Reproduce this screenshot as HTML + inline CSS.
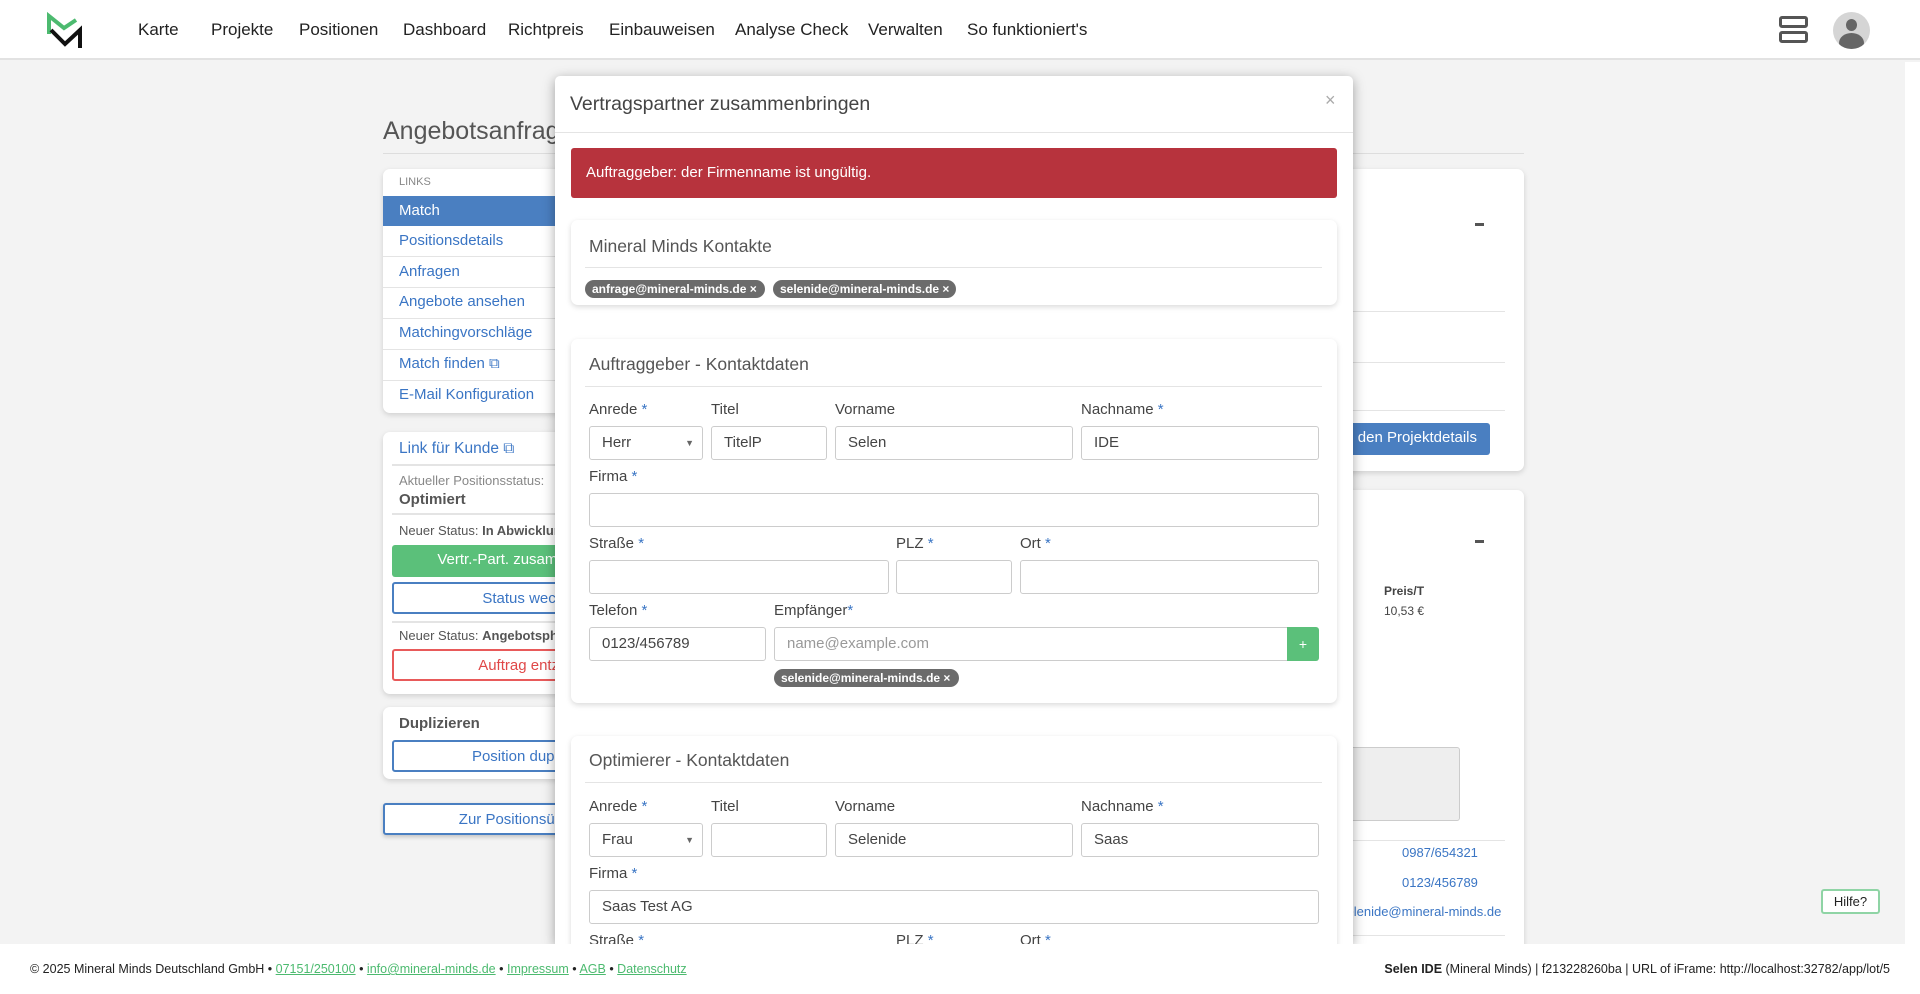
<!DOCTYPE html>
<html style="width:1920px;height:994px;overflow:hidden"><head><meta charset="utf-8"><style>
*{box-sizing:border-box;margin:0;padding:0}
body{width:1920px;height:994px;overflow:hidden;background:#f3f3f3;font-family:"Liberation Sans",sans-serif;position:relative;color:#333}
.a{position:absolute}
.nav{left:0;top:0;width:1920px;height:60px;background:#fff;border-bottom:2px solid #e2e2e2}
.nav span{position:absolute;top:20px;font-size:17px;color:#222}
.card{position:absolute;background:#fff;border-radius:7px;box-shadow:0 2px 6px rgba(0,0,0,.15)}
.hr{position:absolute;height:1px;background:#e4e4e4}
.lnk{position:absolute;left:16px;font-size:15px;color:#3a75c4}
.btn{position:absolute;height:32px;border-radius:3px;font-size:15px;text-align:center;line-height:30px}
.lbl{position:absolute;font-size:15px;color:#444}
.lbl b{color:#3a75c4;font-weight:normal}
.inp{position:absolute;height:34px;border:1px solid #ccc;border-radius:3px;background:#fff;font-size:15px;color:#444;padding-left:12px;line-height:32px}
.badge{position:absolute;height:18px;border-radius:9px;background:#6b6b6b;color:#fff;font-size:12px;font-weight:bold;line-height:18px;padding-left:7px}
.ct{position:absolute;left:18px;font-size:17.5px;color:#555}
</style></head><body>
<div class="a nav">
<svg class="a" style="left:45px;top:11px" width="40" height="40" viewBox="45 11 40 40">
<polyline points="49,34 49,16 64,28 76,20" fill="none" stroke="#4cba6f" stroke-width="4"/>
<polyline points="51,30 65,44 80,30 80,48" fill="none" stroke="#111" stroke-width="4"/>
</svg>
<span style="left:138px">Karte</span><span style="left:211px">Projekte</span><span style="left:299px">Positionen</span><span style="left:403px">Dashboard</span><span style="left:508px">Richtpreis</span><span style="left:609px">Einbauweisen</span><span style="left:735px">Analyse Check</span><span style="left:868px">Verwalten</span><span style="left:967px">So funktioniert's</span>
<div class="a" style="left:1779px;top:16px;width:29px;height:12px;border:3px solid #555;border-radius:3px"></div>
<div class="a" style="left:1779px;top:31px;width:29px;height:12px;border:3px solid #555;border-radius:3px"></div>
<div class="a" style="left:1833px;top:12px;width:37px;height:37px;border-radius:50%;background:#d5d5d5;overflow:hidden">
<div class="a" style="left:13px;top:7px;width:11px;height:12px;border-radius:50%;background:#666"></div>
<div class="a" style="left:6px;top:21px;width:25px;height:20px;border-radius:50%;background:#666"></div></div>
</div>
<div class="a" style="left:1905px;top:62px;width:15px;height:882px;background:#fff"></div>

<div class="a" style="left:383px;top:117px;font-size:25px;color:#555">Angebotsanfrage</div>
<div class="hr" style="left:383px;top:153px;width:1141px;background:#ddd"></div>

<div class="card" style="left:383px;top:169px;width:300px;height:244px">
<div class="a" style="left:16px;top:7px;font-size:11px;color:#888">LINKS</div>
<div class="a" style="left:0;top:27px;width:300px;height:30px;background:#4a7fc1"></div>
<div class="lnk" style="top:33px;color:#fff">Match</div>
<div class="hr" style="left:0;top:87px;width:300px"></div><div class="hr" style="left:0;top:118px;width:300px"></div><div class="hr" style="left:0;top:149px;width:300px"></div><div class="hr" style="left:0;top:180px;width:300px"></div><div class="hr" style="left:0;top:211px;width:300px"></div>
<div class="lnk" style="top:63px">Positionsdetails</div><div class="lnk" style="top:94px">Anfragen</div><div class="lnk" style="top:124px">Angebote ansehen</div><div class="lnk" style="top:155px">Matchingvorschläge</div><div class="lnk" style="top:186px">Match finden ⧉</div><div class="lnk" style="top:217px">E-Mail Konfiguration</div>
</div>
<div class="card" style="left:383px;top:432px;width:300px;height:262px">
<div class="lnk" style="top:8px;font-size:15.5px">Link für Kunde ⧉</div>
<div class="hr" style="left:9px;top:32px;width:290px;height:2px"></div>
<div class="a" style="left:16px;top:41px;font-size:13px;color:#888">Aktueller Positionsstatus:</div>
<div class="a" style="left:16px;top:59px;font-size:15px;font-weight:bold;color:#555">Optimiert</div>
<div class="hr" style="left:9px;top:81px;width:290px;height:2px"></div>
<div class="a" style="left:16px;top:91px;font-size:13px;color:#555">Neuer Status: <b>In Abwicklung</b></div>
<div class="btn" style="left:9px;top:113px;width:290px;background:#5bc07a;color:#fff">Vertr.-Part. zusammenbringen</div>
<div class="btn" style="left:9px;top:150px;width:290px;border:2px solid #4a7fc1;color:#3a75c4">Status wechseln</div>
<div class="hr" style="left:9px;top:189px;width:290px;height:2px"></div>
<div class="a" style="left:16px;top:196px;font-size:13px;color:#555">Neuer Status: <b>Angebotsphase</b></div>
<div class="btn" style="left:9px;top:217px;width:290px;border:2px solid #e85a5a;color:#e04848">Auftrag entziehen</div>
</div>
<div class="card" style="left:383px;top:707px;width:300px;height:72px">
<div class="a" style="left:16px;top:8px;font-size:15px;font-weight:bold;color:#555">Duplizieren</div>
<div class="btn" style="left:9px;top:33px;width:290px;border:2px solid #4a7fc1;color:#3a75c4">Position duplizieren</div>
</div>
<div class="btn" style="left:383px;top:803px;width:300px;border:2px solid #4a7fc1;color:#3a75c4;background:#fff;box-shadow:0 2px 4px rgba(0,0,0,.2)">Zur Positionsübersicht</div>

<div class="card" style="left:1200px;top:169px;width:324px;height:302px">
<div class="a" style="left:275px;top:54px;width:9px;height:3px;background:#555"></div>
<div class="hr" style="left:0;top:142px;width:305px"></div><div class="hr" style="left:0;top:193px;width:305px"></div><div class="hr" style="left:0;top:241px;width:305px"></div>
<div class="btn" style="left:0;top:254px;width:290px;background:#4a7fc1;color:#fff;text-align:right;padding-right:13px">zu den Projektdetails</div>
</div>
<div class="card" style="left:1200px;top:490px;width:324px;height:470px">
<div class="a" style="left:275px;top:50px;width:9px;height:3px;background:#555"></div>
<div class="a" style="left:184px;top:94px;font-size:12px;font-weight:bold;color:#444">Preis/T</div>
<div class="a" style="left:184px;top:114px;font-size:12px;color:#444">10,53 €</div>
<div class="a" style="left:60px;top:257px;width:200px;height:74px;background:#eee;border:1px solid #ccc;border-radius:3px"></div>
<div class="hr" style="left:0;top:350px;width:305px"></div>
<div class="a" style="left:202px;top:355px;font-size:13px;color:#3a75c4">0987/654321</div>
<div class="a" style="left:202px;top:385px;font-size:13px;color:#3a75c4">0123/456789</div>
<div class="a" style="left:140px;top:414px;font-size:13px;color:#3a75c4">selenide@mineral-minds.de</div>
<div class="hr" style="left:0;top:445px;width:305px"></div>
</div>

<div class="a" style="left:555px;top:76px;width:798px;height:868px;background:#fff;border-radius:5px 5px 0 0;box-shadow:0 3px 12px rgba(0,0,0,.35);overflow:hidden">
<div class="a" style="left:15px;top:17px;font-size:19.5px;color:#444">Vertragspartner zusammenbringen</div>
<div class="a" style="left:770px;top:14px;font-size:18px;color:#aaa">×</div>
<div class="hr" style="left:0;top:56px;width:798px"></div>
<div class="a" style="left:16px;top:72px;width:766px;height:50px;background:#b7333d;border-radius:3px;color:#fff;font-size:15px;padding:16px 0 0 15px">Auftraggeber: der Firmenname ist ungültig.</div>

<div class="card" style="left:16px;top:144px;width:766px;height:85px">
<div class="ct" style="top:16px">Mineral Minds Kontakte</div>
<div class="hr" style="left:14px;top:47px;width:737px"></div>
<div class="badge" style="left:14px;top:60px;width:180px">anfrage@mineral-minds.de ×</div>
<div class="badge" style="left:202px;top:60px;width:183px">selenide@mineral-minds.de ×</div>
</div>

<div class="card" style="left:16px;top:263px;width:766px;height:364px">
<div class="ct" style="top:15px">Auftraggeber - Kontaktdaten</div>
<div class="hr" style="left:14px;top:47px;width:737px"></div>
<div class="lbl" style="left:18px;top:62px">Anrede <b>*</b></div><div class="lbl" style="left:140px;top:62px">Titel</div><div class="lbl" style="left:264px;top:62px">Vorname</div><div class="lbl" style="left:510px;top:62px">Nachname <b>*</b></div>
<div class="inp" style="left:18px;top:87px;width:114px">Herr<span style="position:absolute;right:8px;font-size:9px;color:#666">▼</span></div>
<div class="inp" style="left:140px;top:87px;width:116px">TitelP</div>
<div class="inp" style="left:264px;top:87px;width:238px">Selen</div>
<div class="inp" style="left:510px;top:87px;width:238px">IDE</div>
<div class="lbl" style="left:18px;top:129px">Firma <b>*</b></div>
<div class="inp" style="left:18px;top:154px;width:730px"></div>
<div class="lbl" style="left:18px;top:196px">Straße <b>*</b></div><div class="lbl" style="left:325px;top:196px">PLZ <b>*</b></div><div class="lbl" style="left:449px;top:196px">Ort <b>*</b></div>
<div class="inp" style="left:18px;top:221px;width:300px"></div>
<div class="inp" style="left:325px;top:221px;width:116px"></div>
<div class="inp" style="left:449px;top:221px;width:299px"></div>
<div class="lbl" style="left:18px;top:263px">Telefon <b>*</b></div><div class="lbl" style="left:203px;top:263px">Empfänger<b>*</b></div>
<div class="inp" style="left:18px;top:288px;width:177px">0123/456789</div>
<div class="inp" style="left:203px;top:288px;width:514px;color:#999;border-radius:3px 0 0 3px">name@example.com</div>
<div class="a" style="left:716px;top:288px;width:32px;height:34px;background:#5bc07a;border-radius:0 3px 3px 0;color:#fff;text-align:center;line-height:34px;font-size:14px">+</div>
<div class="badge" style="left:203px;top:330px;width:185px">selenide@mineral-minds.de ×</div>
</div>

<div class="card" style="left:16px;top:660px;width:766px;height:300px">
<div class="ct" style="top:14px">Optimierer - Kontaktdaten</div>
<div class="hr" style="left:14px;top:46px;width:737px"></div>
<div class="lbl" style="left:18px;top:62px">Anrede <b>*</b></div><div class="lbl" style="left:140px;top:62px">Titel</div><div class="lbl" style="left:264px;top:62px">Vorname</div><div class="lbl" style="left:510px;top:62px">Nachname <b>*</b></div>
<div class="inp" style="left:18px;top:87px;width:114px">Frau<span style="position:absolute;right:8px;font-size:9px;color:#666">▼</span></div>
<div class="inp" style="left:140px;top:87px;width:116px"></div>
<div class="inp" style="left:264px;top:87px;width:238px">Selenide</div>
<div class="inp" style="left:510px;top:87px;width:238px">Saas</div>
<div class="lbl" style="left:18px;top:129px">Firma <b>*</b></div>
<div class="inp" style="left:18px;top:154px;width:730px">Saas Test AG</div>
<div class="lbl" style="left:18px;top:196px">Straße <b>*</b></div><div class="lbl" style="left:325px;top:196px">PLZ <b>*</b></div><div class="lbl" style="left:449px;top:196px">Ort <b>*</b></div>
</div>
</div>

<div class="a" style="left:1821px;top:889px;width:59px;height:25px;background:#fff;border:2px solid #8fd4a5;border-radius:3px;font-size:13px;text-align:center;line-height:21px;color:#222">Hilfe?</div>

<div class="a" style="left:0;top:944px;width:1920px;height:50px;background:#fff;font-size:12.5px;color:#222;z-index:5">
<div class="a" style="left:30px;top:18px">© 2025 Mineral Minds Deutschland GmbH • <u style="color:#4cba6f">07151/250100</u> • <u style="color:#4cba6f">info@mineral-minds.de</u> • <u style="color:#4cba6f">Impressum</u> • <u style="color:#4cba6f">AGB</u> • <u style="color:#4cba6f">Datenschutz</u></div>
<div class="a" style="right:30px;top:18px"><b>Selen IDE</b> (Mineral Minds) | f213228260ba | URL of iFrame: http://localhost:32782/app/lot/5</div>
</div>
</body></html>
